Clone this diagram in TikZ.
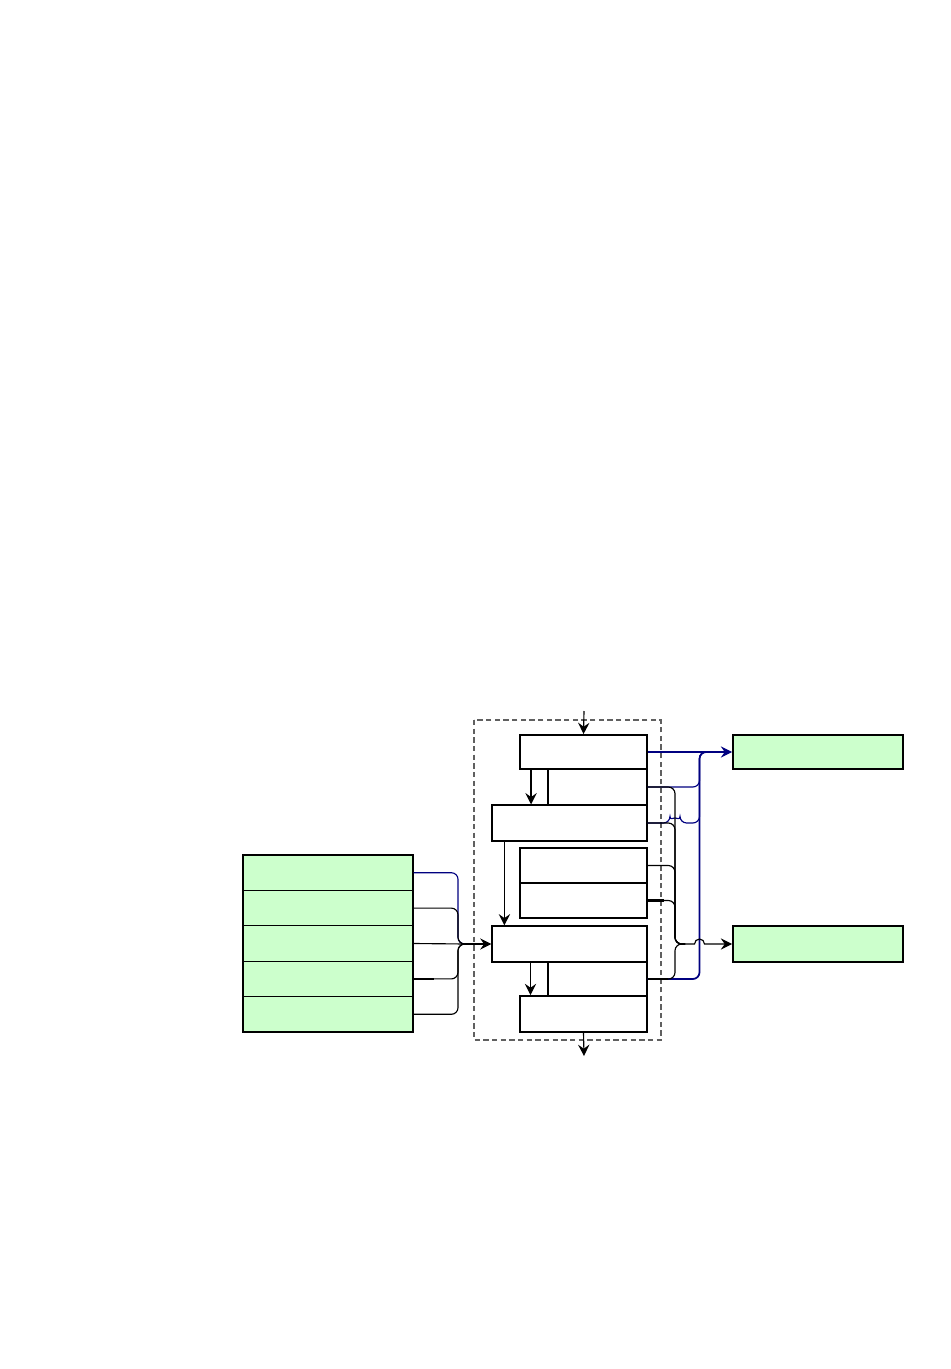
\documentclass[tikz,border=0pt]{standalone}
\usetikzlibrary{arrows.meta}
\definecolor{boxgreen}{RGB}{204,255,204}
\definecolor{busblue}{RGB}{0,0,128}
\begin{document}
\begin{tikzpicture}[x=0.75pt, y=-0.75pt, line width=0.85pt,
    stage/.style={draw, fill=white, inner sep=0pt, line width=0.9pt},
    bold stage/.style={stage, line width=1.4pt},
    store/.style={draw, fill=boxgreen, inner sep=0pt, line width=1pt,
      minimum width=127.5pt},
    arr/.style={-{Stealth[length=8.5pt, width=8.5pt, inset=3pt]}},
    bus/.style={rounded corners=5pt},
    hop/.style={rounded corners=5pt}]
  \useasboundingbox (0,0) rectangle (950,1369);
  % frame
  \draw[gray!75!black, line width=1pt, dash pattern=on 4pt off 2.5pt]
    (474,720) rectangle (661,1040);
  % stages: name / centre x / centre y / width / height
  \foreach \n/\cx/\cy/\w/\h in {
    A2/597.5/787/74.25/27,
    E2/597.5/979/74.25/25.5,
    B/569.5/823/116.25/27,
    E/569.5/944/116.25/27} {
    \node[stage, minimum width=\w pt, minimum height=\h pt] (\n) at (\cx,\cy) {};
  }
  \foreach \n/\cy/\h in {A/752/25.5, C/865.5/26.25, D/900.5/26.25, F/1014/27} {
    \node[bold stage, minimum width=95.25pt, minimum height=\h pt] (\n) at (583.5,\cy) {};
  }
  % left stores
  \foreach \i in {1,...,5} {
    \node[store, minimum height=26.55pt] (L\i) at (328,855+35.4*\i-17.7) {};
  }
  % right stores
  \node[store, line width=1.4pt, minimum height=25.5pt] (R1) at (818,752) {};
  \node[store, line width=1.4pt, minimum height=27pt] (R2) at (818,944) {};
  % flow through the stages
  \coordinate (in) at (584,711);
  \coordinate (out) at (584,1056);
  \draw[arr] (in) -- (A.north);
  \draw[arr] (F.south) -- (out);
  \draw[arr, line width=1.4pt] ([xshift=9pt]A.south west) -- ([xshift=9pt]A.south west |- B.north);
  \draw[arr] ([xshift=9.75pt]B.south west) -- ([xshift=9.75pt]B.south west |- E.north);
  \draw[arr] ([xshift=-29.25pt]E.south) -- ([xshift=-29.25pt]E.south |- F.north);
  % left inputs
  \coordinate (lmerge) at (466,944);
  \draw[bus, busblue] (L1.east) -| (458,944) -- (lmerge);
  \draw[bus] (L2.east) -| (458,944) -- (lmerge);
  \draw (L3.east) -- (lmerge);
  \draw[bus] (L4.east) -| (458,944) -- (lmerge);
  \draw[bus] (L5.east) -| (458,944) -- (lmerge);
  \draw[line width=1.6pt] (L4.east) -- ++(20,0);
  \draw[arr] (lmerge) -- (E.west);
  % right outputs, blue bus
  \draw[busblue, arr] (A.east) -- (R1.west);
  \draw[bus, busblue] (A2.east) -| (699.5,752) -- (712,752);
  \draw[hop, busblue] (B.east) -- (670,823) arc[start angle=180, end angle=0, radius=3.75pt]
    -| (699.5,752) -- (712,752);
  \draw[bus, busblue, line width=1.3pt] (E2.east) -| (699.5,752) -- (712,752);
  % right outputs, black bus
  \coordinate (rmerge) at (685,944);
  \foreach \n in {A2, B, C, D, E2} {
    \draw[bus] (\n.east) -| (675,944) -- (rmerge);
  }
  \draw[line width=1.6pt] (D.east) -- ++(16,0);
  \draw[line width=1.6pt] (E2.east) -- ++(20,0);
  \draw[arr] (rmerge) -- (694.5,944) arc[start angle=180, end angle=0, radius=3.75pt] -- (R2.west);
\end{tikzpicture}
\end{document}
